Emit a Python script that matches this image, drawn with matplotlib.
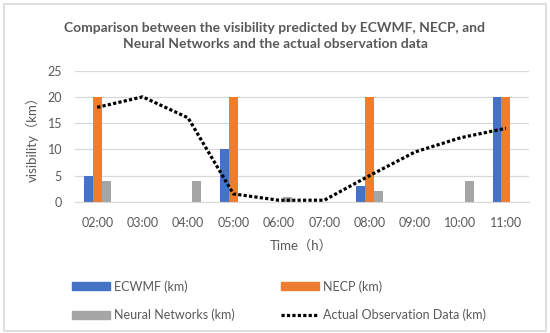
import numpy as np
import matplotlib
matplotlib.use("Agg")
import matplotlib.pyplot as plt
from matplotlib.patches import Rectangle, Patch
from matplotlib.lines import Line2D

plt.rcParams['font.family'] = ['Lato', 'Noto Sans CJK SC', 'DejaVu Sans']

hours = ["02:00", "03:00", "04:00", "05:00", "06:00", "07:00", "08:00", "09:00", "10:00", "11:00"]
ecwmf = [5, 0, 0, 10, 0, 0, 3, 0, 0, 20]
necp = [20, 0, 0, 20, 0, 0, 20, 0, 0, 20]
neural = [4, 0, 4, 0, 1, 0, 2, 0, 4, 0]
actual = [18, 20, 16, 1.5, 0.3, 0.3, 5, 9.5, 12.2, 14]

c_blue = "#4472C4"
c_orange = "#ED7D31"
c_gray = "#A5A5A5"
c_text = "#595959"
c_grid = "#D9D9D9"

fig = plt.figure(figsize=(5.5, 3.33), dpi=100)
ax = fig.add_axes([0.1355, 0.394, 0.8255, 0.394])

x = np.arange(len(hours))
w = 0.195
ax.bar(x - w, ecwmf, w, color=c_blue, zorder=2)
ax.bar(x, necp, w, color=c_orange, zorder=2)
ax.bar(x + w, neural, w, color=c_gray, zorder=2)
ax.plot(x, actual, color="black", lw=2.3, linestyle=(0, (1, 0.7)), zorder=3)

ax.set_xlim(-0.5, len(hours) - 0.5)
ax.set_ylim(0, 25)
ax.set_yticks(np.arange(0, 26, 5))
ax.set_xticks(x)
ax.set_xticklabels(hours)
ax.yaxis.grid(True, color=c_grid, lw=0.9, zorder=0)
ax.set_axisbelow(True)
for s in ["top", "right", "left"]:
    ax.spines[s].set_visible(False)
ax.spines["bottom"].set_color(c_grid)
ax.tick_params(axis="both", length=0, labelsize=9, colors=c_text)
ax.tick_params(axis="y", pad=9)
ax.tick_params(axis="x", pad=11)
ax.set_xlabel("Time（h）", fontsize=9.5, color=c_text, labelpad=7)
ax.set_ylabel("visibility（km）", fontsize=9.5, color=c_text, labelpad=6)

fig.text(0.5, 1 - 36 / 333, "Comparison between the visibility predicted by ECWMF, NECP, and\nNeural Networks and the actual observation data",
         ha="center", va="center", fontsize=10, fontweight="bold", color=c_text, linespacing=1.45)

# figure border
fig.patches.append(Rectangle((4 / 550, 2 / 333), 542 / 550, 327 / 333, transform=fig.transFigure,
                             fill=False, edgecolor="#D9D9D9", lw=1.2))

leg_kw = dict(frameon=False, fontsize=9, handlelength=3.0, handleheight=0.55, handletextpad=0.35,
              labelspacing=1.3, loc="upper left", labelcolor=c_text, borderaxespad=0, borderpad=0)
h1 = [Patch(color=c_blue), Patch(color=c_gray)]
fig.legend(h1, ["ECWMF (km)", "Neural Networks (km)"], bbox_to_anchor=(72 / 550, 1 - 280 / 333), **leg_kw)
h2 = [Patch(color=c_orange), Line2D([], [], color="black", lw=2.3, linestyle=(0, (1, 0.7)))]
fig.legend(h2, ["NECP (km)", "Actual Observation Data (km)"], bbox_to_anchor=(281 / 550, 1 - 280 / 333), **leg_kw)

fig.savefig("out.png", dpi=100)
